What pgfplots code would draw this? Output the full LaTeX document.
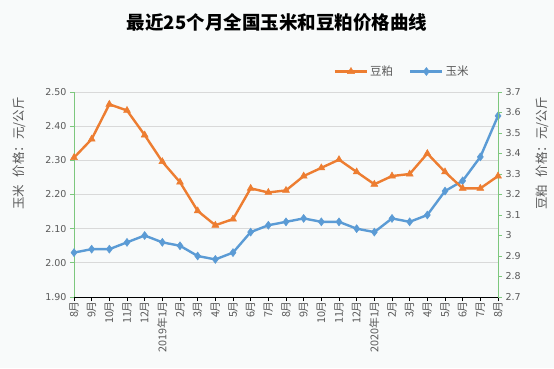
\documentclass[border=0pt]{standalone}
\usepackage{fontspec}
\setmainfont{DejaVu Sans}
\newfontfamily\cjk{Noto Sans CJK SC}
\usepackage{pgfplots}
\pgfplotsset{compat=1.18}
\definecolor{bg}{HTML}{F8FAFA}
\definecolor{corn}{HTML}{5B9BD5}
\definecolor{soy}{HTML}{ED7D31}
\definecolor{axg}{HTML}{7DC77D}
\definecolor{txt}{HTML}{595959}
\definecolor{gridc}{HTML}{D9D9D9}
\pgfplotsset{
  common/.style={
    at={(74pt,71pt)}, anchor=south west, scale only axis,
    width=424pt, height=205pt,
    xmin=0, xmax=24,
    tick align=outside, major tick length=4pt,
    /pgf/number format/assume math mode=true,
    ticklabel style={font=\fontsize{9.5}{11}\selectfont, text=txt},
    legend image code/.code={\draw[mark repeat=2,mark phase=2] plot coordinates {(0pt,0pt) (16pt,0pt) (32pt,0pt)};},
  },
}
\begin{document}
\begin{tikzpicture}
\fill[bg] (0pt,0pt) rectangle (554pt,368pt);
\node[font=\cjk\bfseries\fontsize{18.5}{22}\selectfont, text=black] at (277pt,346pt) {最近25个月全国玉米和豆粕价格曲线};
\begin{axis}[common,
  ymin=1.9, ymax=2.5,
  axis x line*=bottom, axis y line*=left,
  x axis line style={black, line width=0.8pt, -},
  y axis line style={axg, line width=0.8pt, -},
  xtick={0,...,24},
  xticklabels={8月,9月,10月,11月,12月,2019年1月,2月,3月,4月,5月,6月,7月,8月,9月,10月,11月,12月,2020年1月,2月,3月,4月,5月,6月,7月,8月},
  x tick label style={rotate=90, anchor=east, font=\cjk\fontsize{10.8}{12}\selectfont, text=txt, inner sep=1pt, xshift=1pt},
  x tick style={black, line width=0.8pt},
  ytick={1.9,2.0,2.1,2.2,2.3,2.4,2.5},
  yticklabel style={/pgf/number format/fixed, /pgf/number format/fixed zerofill, /pgf/number format/precision=2},
  y tick style={axg, line width=0.8pt},
  ymajorgrids, major grid style={gridc, line width=0.8pt},
  ylabel={玉米\hspace{0.6em}价格：元/公斤},
  ylabel style={at={(axis description cs:-0.128,0.70)}, anchor=center, font=\cjk\fontsize{12.5}{14}\selectfont, text=txt},
]
\addplot[corn, line width=2.4pt, mark=diamond*, mark size=4pt, mark options={fill=corn, draw=corn, line width=0.5pt}]
coordinates {(0,2.03)(1,2.04)(2,2.04)(3,2.06)(4,2.08)(5,2.06)(6,2.05)(7,2.02)(8,2.01)(9,2.03)(10,2.09)(11,2.11)(12,2.12)(13,2.13)(14,2.12)(15,2.12)(16,2.10)(17,2.09)(18,2.13)(19,2.12)(20,2.14)(21,2.21)(22,2.24)(23,2.31)(24,2.43)};
\end{axis}
\begin{axis}[common,
  ymin=2.7, ymax=3.7,
  axis x line=none, axis y line*=right,
  y axis line style={axg, line width=0.8pt, -},
  ytick={2.7,2.8,2.9,3,3.1,3.2,3.3,3.4,3.5,3.6,3.7},
  yticklabel style={/pgf/number format/fixed},
  y tick style={axg, line width=0.8pt},
  ylabel={豆粕\hspace{0.6em}价格：元/公斤},
  ylabel style={at={(axis description cs:1.104,0.70)}, anchor=center, rotate=0, font=\cjk\fontsize{12.5}{14}\selectfont, text=txt},
  legend columns=2,
  legend style={at={(axis description cs:0.774,1.10)}, anchor=center, draw=none, fill=none, font=\cjk\fontsize{11.5}{13}\selectfont, text=txt, /tikz/every even column/.append style={column sep=14pt}},
]
\addplot[soy, line width=2.4pt, mark=triangle*, mark size=4pt, mark options={fill=soy, draw=soy, line width=0.5pt}]
coordinates {(0,3.38)(1,3.47)(2,3.64)(3,3.61)(4,3.49)(5,3.36)(6,3.26)(7,3.12)(8,3.05)(9,3.08)(10,3.23)(11,3.21)(12,3.22)(13,3.29)(14,3.33)(15,3.37)(16,3.31)(17,3.25)(18,3.29)(19,3.30)(20,3.40)(21,3.31)(22,3.23)(23,3.23)(24,3.29)};
\addlegendentry{豆粕}
\addlegendimage{corn, line width=2.4pt, mark=diamond*, mark size=4pt, mark options={fill=corn, draw=corn, line width=0.5pt}}
\addlegendentry{玉米}
\end{axis}
\end{tikzpicture}
\end{document}
